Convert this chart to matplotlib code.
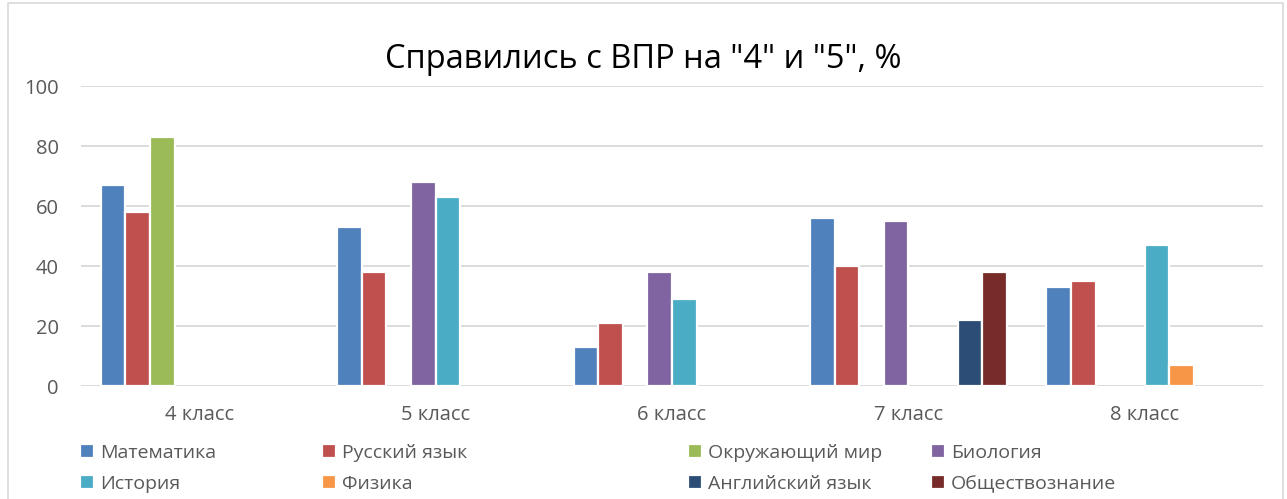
import numpy as np
import matplotlib
matplotlib.use("Agg")
import matplotlib.pyplot as plt
from matplotlib.patches import Rectangle

plt.rcParams['font.family'] = ['Open Sans', 'DejaVu Sans']

classes = ["4 класс", "5 класс", "6 класс", "7 класс", "8 класс"]
subjects = ["Математика", "Русский язык", "Окружающий мир", "Биология",
            "История", "Физика", "Английский язык", "Обществознание"]
colors = ["#4F81BD", "#C0504D", "#9BBB59", "#8064A2",
          "#4BACC6", "#F79646", "#2C4D75", "#772C2A"]

nan = np.nan
matematika = [67, 53, 13, 56, 33]
russkiy = [58, 38, 21, 40, 35]
okr_mir = [83, nan, nan, nan, nan]
biologiya = [nan, 68, 38, 55, nan]
istoriya = [nan, 63, 29, nan, 47]
fizika = [nan, nan, nan, nan, 7]
angliyskiy = [nan, nan, nan, 22, nan]
obshestvo = [nan, nan, nan, 38, nan]
series = [matematika, russkiy, okr_mir, biologiya,
          istoriya, fizika, angliyskiy, obshestvo]

fig = plt.figure(figsize=(12.87, 4.99), dpi=100)
ax = fig.add_axes([81 / 1287, 1 - 386 / 499, 1182 / 1287, 300 / 499])

x = np.arange(len(classes))
slot = 0.104
handles = []
for j, (vals, c, name) in enumerate(zip(series, colors, subjects)):
    b = ax.bar(x + (j - 3.5) * slot, vals, width=slot, color=c,
               edgecolor="white", linewidth=1.6, label=name, zorder=3)
    handles.append(b)

ax.set_xlim(-0.5, len(classes) - 0.5)
ax.set_ylim(0, 100)
ax.set_yticks([0, 20, 40, 60, 80, 100])
ax.set_xticks(x)
ax.set_xticklabels(classes)
ax.grid(axis="y", color="#D9D9D9", linewidth=1.3, zorder=0)
ax.set_axisbelow(True)
for s in ax.spines.values():
    s.set_visible(False)
ax.tick_params(axis="both", length=0, labelsize=14.5, colors="#595959")
ax.tick_params(axis="y", pad=16)
ax.tick_params(axis="x", pad=14)

fig.text(0.5, 1 - 60 / 499, 'Справились с ВПР на "4" и "5", %',
         ha="center", va="center", fontsize=23.5, color="black")

# legend: 4 columns, 2 rows
col_x = [70, 312, 678, 921]
for k in range(4):
    leg = fig.legend([handles[k], handles[k + 4]], [subjects[k], subjects[k + 4]],
                     loc="upper left", bbox_to_anchor=(col_x[k] / 1287, 1 - 434 / 499),
                     frameon=False, fontsize=14, handlelength=0.75, handleheight=0.75,
                     handletextpad=0.3, labelspacing=0.68, borderpad=0,
                     labelcolor="#595959")

fig.patches.append(Rectangle((8 / 1287, -0.01), 1275 / 1287, 1 - 3 / 499 + 0.01,
                             transform=fig.transFigure, fill=False,
                             edgecolor="#D9D9D9", linewidth=1.2))

fig.savefig("out.png", dpi=100)
